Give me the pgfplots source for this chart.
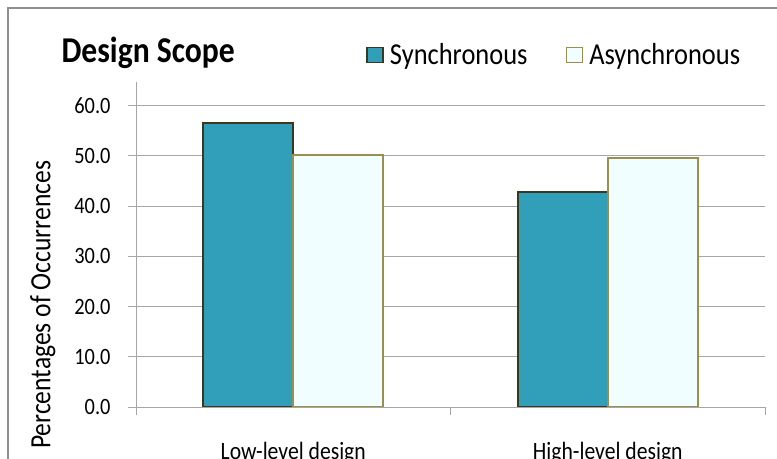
\documentclass[border=0pt]{standalone}
\usepackage{fontspec}
\setmainfont{Carlito}[FakeStretch=0.87]
\usepackage{pgfplots}
\pgfplotsset{compat=1.18}
\definecolor{syncfill}{HTML}{319EBA}
\definecolor{syncedge}{HTML}{3B3820}
\definecolor{asyncfill}{HTML}{F0FEFF}
\definecolor{asyncedge}{HTML}{9A8F4C}
\definecolor{gridgray}{HTML}{A6A6A6}
\definecolor{framegray}{HTML}{8E8E8E}

\begin{document}
\begin{tikzpicture}
\useasboundingbox (0bp,0bp) rectangle (777bp,459bp);
\draw[framegray, line width=2.5bp] (8bp,-5bp) -- (8bp,451bp) -- (790bp,451bp);
\node[anchor=west, font=\bfseries\fontsize{36.5}{40}\selectfont] at (58bp,406bp) {Design Scope};
\begin{axis}[
  at={(136bp,52bp)}, anchor=south west,
  scale only axis, width=629bp, height=325bp,
  xmin=-0.5, xmax=1.5, ymin=0, ymax=64.7,
  ybar=0pt, bar width=90bp,
  axis x line*=bottom, axis y line*=left,
  axis line style={gridgray, line width=0.8bp},
  xtick={-0.5,0.5,1.5}, xticklabels={},
  major tick length=8bp, tick align=outside,
  tick style={gridgray, line width=0.8bp},
  extra x ticks={0,1},
  extra x tick labels={Low-level design, High-level design},
  extra x tick style={major tick length=0pt, grid=none,
    tick label style={yshift=-32bp, font=\fontsize{25}{28}\selectfont}},
  ytick={0,10,...,60},
  /pgf/number format/fixed, /pgf/number format/fixed zerofill,
  /pgf/number format/precision=1, /pgf/number format/assume math mode=true,
  yticklabel style={font=\fontsize{23.5}{26}\selectfont, xshift=-14bp},
  ymajorgrids, grid style={gridgray, line width=0.8bp},
  ylabel={Percentages of Occurrences},
  ylabel style={at={(axis description cs:-0.148,0.314)}, anchor=center,
    font=\fontsize{29.5}{32}\selectfont},
  legend style={at={(axis description cs:0.361,1.083)}, anchor=west,
    draw=none, fill=none, legend columns=2,
    font=\fontsize{30.5}{34}\selectfont,
    /tikz/every even column/.append style={column sep=36bp}},
  legend cell align=left,
  legend image code/.code={\draw[#1, line width=1.5bp] (0bp,-7.5bp) rectangle (16bp,7.5bp);
    \path (20bp,0bp);},
]
\addplot[fill=syncfill, draw=syncedge, line width=2bp] coordinates {(0,56.6) (1,42.8)};
\addplot[fill=asyncfill, draw=asyncedge, line width=2bp] coordinates {(0,50.1) (1,49.6)};
\legend{Synchronous, Asynchronous}
\end{axis}
\end{tikzpicture}
\end{document}
